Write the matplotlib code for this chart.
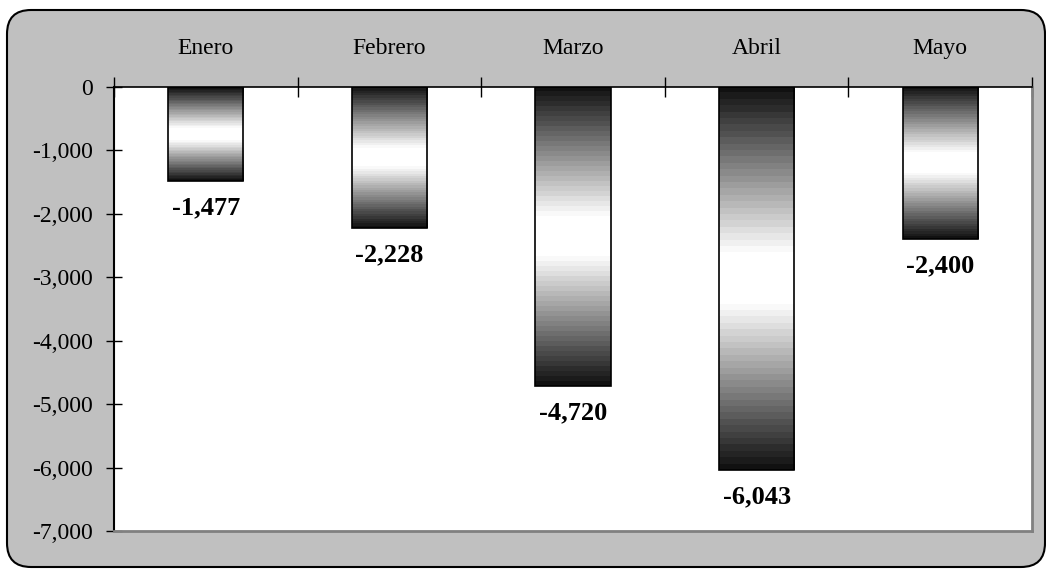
import matplotlib
matplotlib.use('Agg')
import matplotlib.pyplot as plt
import numpy as np
from matplotlib.patches import FancyBboxPatch
from matplotlib.ticker import FuncFormatter
from matplotlib.transforms import IdentityTransform

# monthly values
months = ['Enero', 'Febrero', 'Marzo', 'Abril', 'Mayo']
values = [-1477, -2228, -4720, -6043, -2400]
y_ticks = [0, -1000, -2000, -3000, -4000, -5000, -6000, -7000]

plt.rcParams['font.family'] = ['Liberation Serif', 'DejaVu Serif']

fig = plt.figure(figsize=(10.46, 5.69), dpi=100)
fig.patch.set_facecolor('white')

# gray rounded frame behind everything (pixel coords, origin bottom-left)
frame = FancyBboxPatch((7, 2), 1038, 557,
                       boxstyle='round,pad=0,rounding_size=24',
                       transform=IdentityTransform(), facecolor='#c0c0c0',
                       edgecolor='black', linewidth=1.5, zorder=-5)
fig.patches.append(frame)

ax = fig.add_axes([114 / 1046, 1 - 531 / 569, (1032 - 114) / 1046, (531 - 87) / 569])
ax.set_zorder(2)
ax.set_facecolor('white')

x = np.arange(len(months))
width = 0.41
bars = ax.bar(x, values, width=width, facecolor='none', edgecolor='black',
              linewidth=1.2, zorder=3)

# banded dark-white-dark gradient, one per bar
t = np.linspace(0, 1, 60)
g = 0.07 + 0.93 * np.clip(1.15 * (1 - np.abs(2 * t - 1)), 0, 1)
img = np.repeat(g[:, None], 2, axis=1)
for b in bars:
    x0 = b.get_x()
    x1 = x0 + b.get_width()
    ax.imshow(img, cmap='gray', vmin=0, vmax=1, aspect='auto',
              extent=[x0, x1, b.get_height(), 0], interpolation='nearest', zorder=2)

for xi, v in zip(x, values):
    ax.annotate('{:,}'.format(v), (xi, v), xytext=(0, -11), textcoords='offset points',
                ha='center', va='top', fontsize=19, fontweight='bold', zorder=4)

ax.set_xlim(-0.5, len(months) - 0.5)
ax.set_ylim(-7000, 0)
ax.set_yticks(y_ticks)
ax.yaxis.set_major_formatter(FuncFormatter(lambda v, p: '{:,}'.format(int(v))))
ax.tick_params(axis='y', direction='inout', length=12, width=1, labelsize=17, pad=9)

# category names on top, ticks at boundaries
ax.xaxis.tick_top()
ax.set_xticks(np.arange(-0.5, len(months), 1.0))
ax.set_xticklabels([])
ax.set_xticks(x, minor=True)
ax.set_xticklabels(months, minor=True)
ax.tick_params(axis='x', which='major', direction='inout', length=14, width=1)
ax.tick_params(axis='x', which='minor', length=0, labelsize=17, pad=20)

ax.spines['left'].set_color('black')
ax.spines['left'].set_linewidth(1.5)
ax.spines['top'].set_color('black')
ax.spines['top'].set_linewidth(1.2)
ax.spines['bottom'].set_color('#808080')
ax.spines['bottom'].set_linewidth(2)
ax.spines['right'].set_color('#808080')
ax.spines['right'].set_linewidth(2)

fig.savefig('out.png', dpi=100)
